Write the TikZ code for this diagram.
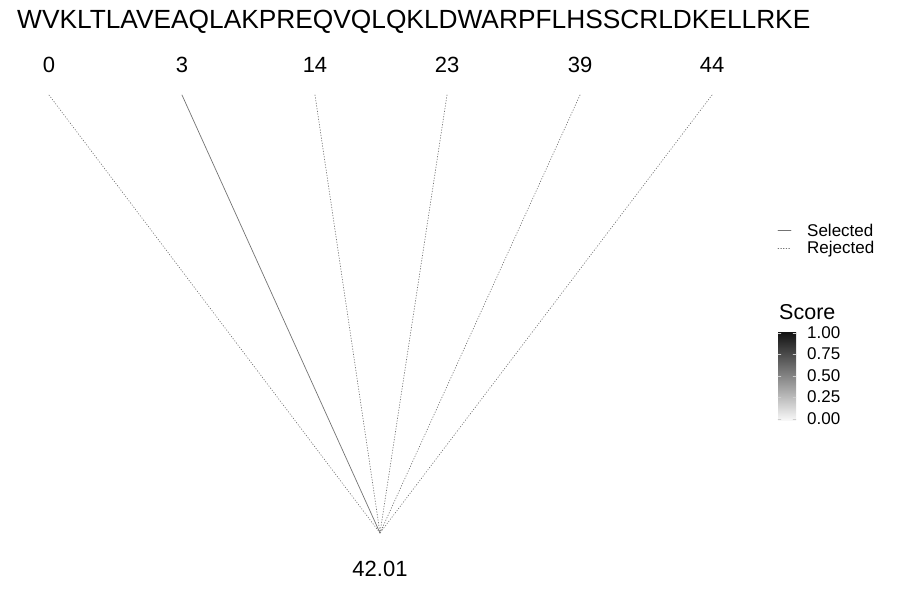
\documentclass[tikz,border=0pt]{standalone}
\usepackage{fontspec}
\setmainfont{Liberation Sans}
\begin{document}
\begin{tikzpicture}[x=1pt,y=-1pt,line join=round,line cap=round,
	sel/.style={black!55,line width=.7pt},
	rej/.style={black!55,line width=.7pt,dash pattern=on .7pt off 2pt},
	lab/.style={inner sep=0pt,font=\fontsize{22}{22}\selectfont},
	leg/.style={inner sep=0pt,anchor=west,font=\fontsize{17}{17}\selectfont}]
	\useasboundingbox (0,0) rectangle (900,600);
	% sequence on top
	\node[inner sep=0pt,anchor=west,font=\fontsize{26.3}{26.3}\selectfont] (seq) at (17,22) {WVKLTLAVEAQLAKPREQVQLQKLDWARPFLHSSCRLDKELLRKE};
	% positions and their ends
	\foreach \n/\x in {0/49,3/182,14/315,23/447,39/580,44/712}{
		\node[lab] (p\n) at (\x,65) {\n};
		\coordinate (t\n) at (\x,95);
	}
	\coordinate (root) at (380,533);
	\node[lab] (total) at (380,569) {42.01};
	\draw[rej] (t0) -- (root);
	\draw[sel] (t3) -- (root);
	\draw[rej] (t14) -- (root);
	\draw[rej] (t23) -- (root);
	\draw[rej] (t39) -- (root);
	\draw[rej] (t44) -- (root);
	% legend
	\draw[sel] (778,230.5) coordinate (s1) -- (791,230.5) coordinate (s2);
	\node[leg] (selected) at (807,230.5) {Selected};
	\draw[rej] (778,248) coordinate (r1) -- (791,248) coordinate (r2);
	\node[leg] (rejected) at (807,249) {Rejected};
	% colour bar
	\node[leg,font=\fontsize{21.5}{21.5}\selectfont] (score) at (779,312) {Score};
	\shade[top color=black!93,bottom color=black!3] (778,332) rectangle (796,420);
	\foreach \v/\y in {1.00/333,0.75/354,0.50/376,0.25/397,0.00/419}{
		\draw[white!80!black,line width=.4pt] (778,\y) -- (781,\y) (793,\y) -- (796,\y);
		\node[leg] at (807,\y) {\v};
	}
\end{tikzpicture}
\end{document}
